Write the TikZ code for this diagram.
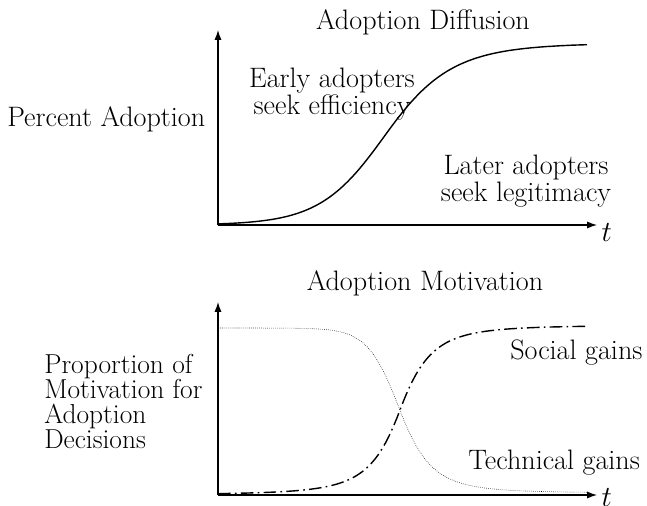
\documentclass[tikz,border=0pt]{standalone}
\usepackage{amsmath}
\usepackage{tikz}
\usetikzlibrary{arrows.meta, positioning}

\tikzset{
  lbl/.style={inner sep=0pt, font=\fontsize{20}{19}\selectfont},
  axis/.style={line width=0.8pt, -{Latex[length=7pt,width=5pt]}},
  declare function={
    sig(\u)=1/(1+exp(-max(min(\u,9),-9)));
  },
}

\begin{document}
\begin{tikzpicture}[x=0.025cm, y=-0.025cm]
      \useasboundingbox (0,0) rectangle (647,506);
      % top plot
      \coordinate (o1) at (218,225);
      \coordinate (y1) at (218,30);
      \coordinate (x1) at (597,225);
      \draw[axis] (o1) -- (y1);
      \draw[axis] (o1) -- (x1);
      \node[lbl, right=3pt of x1, yshift=-5pt] (t1) {$t$};
      \node[lbl] (title1) at (423,22) {Adoption Diffusion};
      \node[lbl, anchor=west] (pa) at (7,119) {Percent Adoption};
      \node[lbl, align=center] (early) at (332,94) {Early adopters\\seek efficiency};
      \node[lbl, align=center] (later) at (526,181) {Later adopters\\seek legitimacy};
      \draw[line width=1pt] plot[domain=218:587, samples=100]
        (\x, {225-182*sig((\x-386)/(33+0.05*max(\x-386,0)))});

      % bottom plot
      \coordinate (o2) at (218,495);
      \coordinate (y2) at (218,302);
      \coordinate (x2) at (597,495);
      \draw[axis] (o2) -- (y2);
      \draw[axis] (o2) -- (x2);
      \node[lbl, right=3pt of x2, yshift=-2pt] (t2) {$t$};
      \node[lbl] (title2) at (425,283) {Adoption Motivation};
      \node[lbl, anchor=north west, align=left, font=\fontsize{19.5}{17.8}\selectfont] (prop) at (44,354)
        {Proportion of\\Motivation for\\Adoption\\Decisions};
      \node[lbl, anchor=west] (social) at (510,353) {Social gains};
      \node[lbl, anchor=west] (tech) at (468,463) {Technical gains};
      \draw[densely dotted, thin] plot[domain=218:587, samples=100]
        (\x, {328+165*sig((\x-400)/(16+0.1*max(\x-400,0)))});
      \draw[line width=1pt, dash pattern=on 9pt off 3pt on 1.2pt off 3pt] plot[domain=218:587, samples=100]
        (\x, {495-170*sig((\x-400)/(16+0.12*abs(\x-400)))});
    \end{tikzpicture}
\end{document}
